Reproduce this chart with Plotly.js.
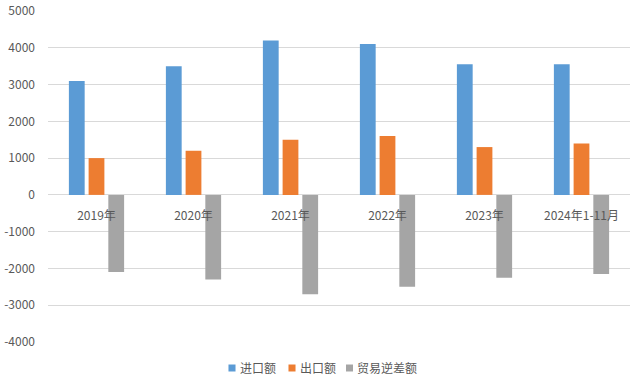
<!DOCTYPE html>
<html>
<head>
<meta charset="utf-8">
<script src="https://cdn.plot.ly/plotly-3.0.1.min.js"></script>
<style>html,body{margin:0;padding:0;background:#fff;}#chart{width:641px;height:383px;}</style>
</head>
<body>
<div id="chart"></div>
<script>
const categories = ["2019年", "2020年", "2021年", "2022年", "2023年", "2024年1-11月"];
const seriesNames = ["进口额", "出口额", "贸易逆差额"];
const importValues = [3100, 3500, 4200, 4100, 3550, 3550];
const exportValues = [1000, 1200, 1500, 1600, 1300, 1400];
const deficitValues = [-2100, -2300, -2700, -2500, -2250, -2150];
const yTicks = [-4000, -3000, -2000, -1000, 0, 1000, 2000, 3000, 4000, 5000];

const colors = ["#5B9BD5", "#ED7D31", "#A5A5A5"];
const allValues = [importValues, exportValues, deficitValues];
const font = "Noto Sans CJK SC, Microsoft YaHei, sans-serif";

const traces = allValues.map((vals, i) => ({
  type: "bar",
  name: seriesNames[i],
  x: categories,
  y: vals,
  marker: {color: colors[i]},
  hoverinfo: "x+y+name"
}));

// Compact legend (Excel-style small squares) built from the series names
const legendSquareX = [0.3101, 0.4132, 0.5120];
const legendTextX = [0.3265, 0.4296, 0.5275];
const legendShapes = seriesNames.map((n, i) => ({
  type: "rect", xref: "paper", yref: "paper",
  x0: legendSquareX[i], x1: legendSquareX[i] + 0.0121,
  y0: -0.0891, y1: -0.0680,
  fillcolor: colors[i], line: {width: 0}
}));
const legendAnnotations = seriesNames.map((n, i) => ({
  xref: "paper", yref: "paper",
  x: legendTextX[i], y: -0.0785,
  xanchor: "left", yanchor: "middle",
  text: n, showarrow: false,
  font: {family: font, size: 12, color: "#595959"}
}));

const yMin = -4000, yMax = 5000;
const layout = {
  width: 641,
  height: 383,
  margin: {l: 48, r: 11, t: 11, b: 41, autoexpand: false},
  paper_bgcolor: "#ffffff",
  plot_bgcolor: "#ffffff",
  barmode: "group",
  bargap: 0.39,
  bargroupgap: 0.2,
  font: {family: font, size: 12, color: "#595959"},
  showlegend: false,
  shapes: legendShapes,
  annotations: legendAnnotations,
  xaxis: {
    type: "category",
    anchor: "free",
    position: (0 - yMin) / (yMax - yMin),
    showline: false,
    showgrid: false,
    ticks: "",
    ticklabelstandoff: 12,
    tickfont: {family: font, size: 12, color: "#595959"},
    fixedrange: true
  },
  yaxis: {
    range: [yMin, yMax],
    tickvals: yTicks,
    ticktext: yTicks.map(String),
    showgrid: true,
    gridcolor: "#D9D9D9",
    gridwidth: 1,
    zeroline: true,
    zerolinecolor: "#D9D9D9",
    zerolinewidth: 1,
    showline: false,
    ticks: "",
    ticklabelstandoff: 12,
    tickfont: {family: font, size: 12, color: "#595959"},
    fixedrange: true
  }
};

Plotly.newPlot("chart", traces, layout, {displayModeBar: false, staticPlot: true});
</script>
</body>
</html>
